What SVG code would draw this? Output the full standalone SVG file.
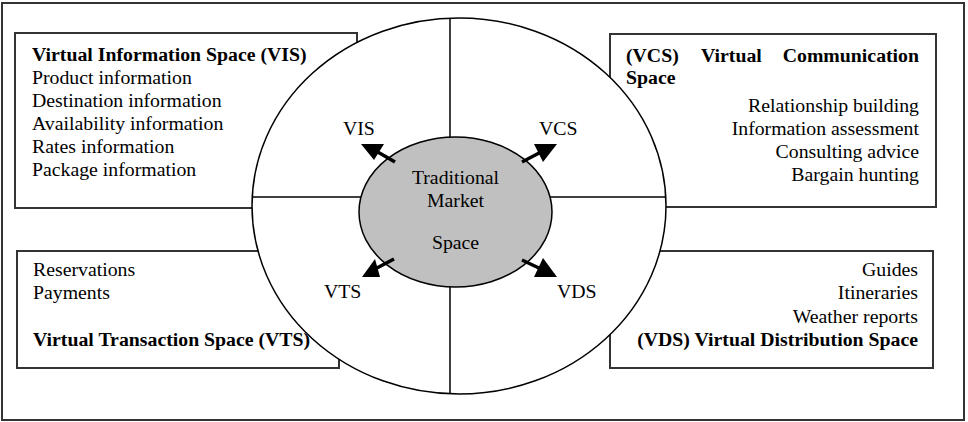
<svg xmlns="http://www.w3.org/2000/svg" width="968" height="422" viewBox="0 0 968 422">
  <style>
    .frame { fill: #ffffff; stroke: #333333; stroke-width: 2; }
    .box { fill: #ffffff; stroke: #333333; stroke-width: 2; }
    .ring { fill: #ffffff; stroke: #000000; stroke-width: 1.5; }
    .core { fill: #c0c0c0; stroke: #000000; stroke-width: 1.5; }
    .div { stroke: #000000; stroke-width: 1.5; fill: none; }
    .arrowline { stroke: #000000; stroke-width: 3.5; fill: none; }
    .head { fill: #000000; stroke: none; }
    text { font-family: "Liberation Serif", "Times New Roman", serif; font-size: 19.8px; fill: #000000; }
    .b { font-weight: bold; }
    .e { text-anchor: end; }
    .m { text-anchor: middle; }
  </style>

  <rect class="frame" x="2" y="3" width="962" height="417"/>

  <g id="box-vis">
    <rect class="box" x="15" y="33" width="342" height="175"/>
  </g>
  <g id="box-vcs">
    <rect class="box" x="610" y="34" width="326" height="173"/>
  </g>
  <g id="box-vts">
    <rect class="box" x="17" y="251" width="322" height="117"/>
  </g>
  <g id="box-vds">
    <rect class="box" x="610" y="251" width="323" height="117"/>
  </g>

  <g id="virtual-space">
    <ellipse class="ring" cx="459" cy="206" rx="207" ry="188"/>
    <line class="div" x1="450" y1="18" x2="450" y2="140"/>
    <line class="div" x1="450" y1="284" x2="450" y2="394"/>
    <line class="div" x1="252" y1="197" x2="362" y2="197"/>
    <line class="div" x1="549" y1="197" x2="666" y2="197"/>
  </g>

  <g id="traditional-market-space">
    <ellipse class="core" cx="455.5" cy="212" rx="96.5" ry="75"/>
    <text class="m" x="455.5" y="184">Traditional</text>
    <text class="m" x="455.5" y="207">Market</text>
    <text class="m" x="455.5" y="249">Space</text>
  </g>

  <g id="connectors">
    <line class="arrowline" x1="395" y1="162" x2="376" y2="151"/>
    <polygon class="head" points="361,144 384,144 374,160"/>
    <line class="arrowline" x1="522" y1="162" x2="541" y2="152"/>
    <polygon class="head" points="534,144 557,144 543,162"/>
    <line class="arrowline" x1="394" y1="259" x2="375" y2="269"/>
    <polygon class="head" points="362,277 380,277 375,259"/>
    <line class="arrowline" x1="522" y1="260" x2="541" y2="269"/>
    <polygon class="head" points="534,277 557,277 543,258"/>
  </g>

  <g id="label-vis"><text x="343" y="135">VIS</text></g>
  <g id="label-vcs"><text x="539" y="135">VCS</text></g>
  <g id="label-vts"><text x="324" y="298">VTS</text></g>
  <g id="label-vds"><text x="557" y="298">VDS</text></g>

  <g id="text-vis">
    <text class="b" x="32" y="61">Virtual Information Space (VIS)</text>
    <text x="32" y="84">Product information</text>
    <text x="32" y="107">Destination information</text>
    <text x="32" y="130">Availability information</text>
    <text x="32" y="153">Rates information</text>
    <text x="32" y="176">Package information</text>
  </g>

  <g id="text-vcs">
    <text class="b" x="626" y="62">(VCS)</text>
    <text class="b" x="701" y="62">Virtual</text>
    <text class="b e" x="919" y="62">Communication</text>
    <text class="b" x="626" y="84">Space</text>
    <text class="e" x="919" y="112">Relationship building</text>
    <text class="e" x="919" y="135">Information assessment</text>
    <text class="e" x="919" y="158">Consulting advice</text>
    <text class="e" x="919" y="181">Bargain hunting</text>
  </g>

  <g id="text-vts">
    <text x="33" y="276">Reservations</text>
    <text x="33" y="299">Payments</text>
    <text class="b" x="33" y="346">Virtual Transaction Space (VTS)</text>
  </g>

  <g id="text-vds">
    <text class="e" x="918" y="276">Guides</text>
    <text class="e" x="918" y="299">Itineraries</text>
    <text class="e" x="918" y="323">Weather reports</text>
    <text class="b e" x="918" y="346">(VDS) Virtual Distribution Space</text>
  </g>
</svg>
